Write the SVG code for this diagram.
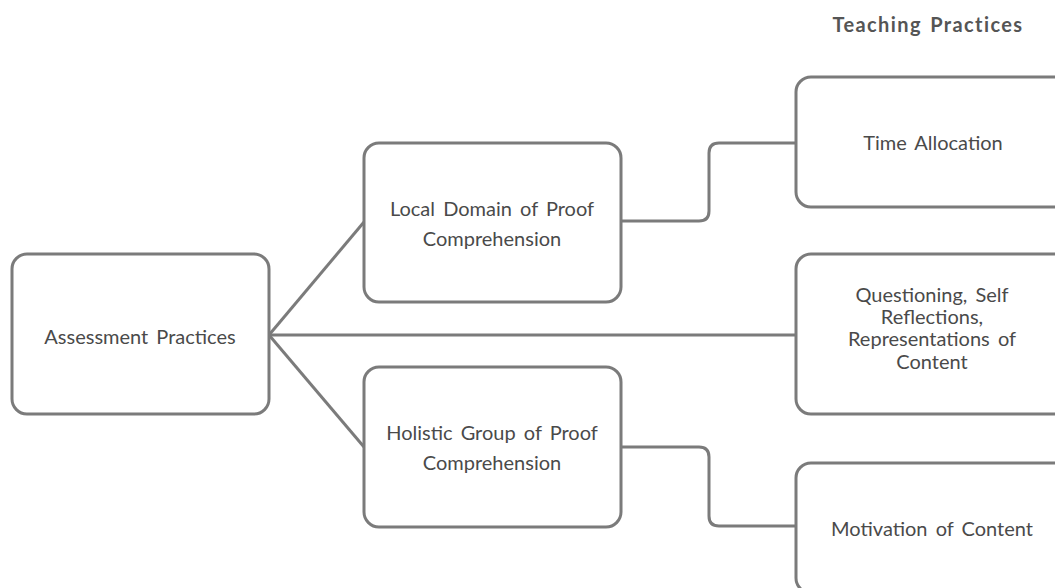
<svg xmlns="http://www.w3.org/2000/svg" width="1055" height="588" viewBox="0 0 1055 588">
<style>
.box{fill:#fff;stroke:#7b7b7b;stroke-width:3}
.lbl{font-family:Lato,"Liberation Sans",sans-serif;font-size:20px;fill:#4a4a4a;text-anchor:middle;word-spacing:3px}
.title{font-family:Lato,"Liberation Sans",sans-serif;font-size:20px;font-weight:bold;fill:#555;text-anchor:middle;letter-spacing:1.4px;word-spacing:2px}
.conn{fill:none;stroke:#7b7b7b;stroke-width:3}
</style>
<rect width="1055" height="588" fill="#fff"/>
<text class="title" x="928" y="32">Teaching Practices</text>
<g id="connectors">
<path class="conn" d="M269,335 L364,222"/>
<path class="conn" d="M269,335 L796,335"/>
<path class="conn" d="M269,335 L364,447"/>
<path class="conn" d="M621,221 L699,221 Q709,221 709,211 L709,153 Q709,143 719,143 L796,143"/>
<path class="conn" d="M621,447 L699,447 Q709,447 709,457 L709,516 Q709,526 719,526 L796,526"/>
</g>
<g id="assessment">
<rect class="box" x="12" y="254" width="257" height="160" rx="15"/>
<text class="lbl" x="140" y="344">Assessment Practices</text>
</g>
<g id="local">
<rect class="box" x="364" y="143" width="257" height="159" rx="15"/>
<text class="lbl" x="492" y="216">Local Domain of Proof</text>
<text class="lbl" x="492" y="246">Comprehension</text>
</g>
<g id="holistic">
<rect class="box" x="364" y="367" width="257" height="160" rx="15"/>
<text class="lbl" x="492" y="440">Holistic Group of Proof</text>
<text class="lbl" x="492" y="470">Comprehension</text>
</g>
<g id="time">
<rect class="box" x="796" y="77" width="275" height="130" rx="15"/>
<text class="lbl" x="933" y="150">Time Allocation</text>
</g>
<g id="questioning">
<rect class="box" x="796" y="254" width="275" height="160" rx="15"/>
<text class="lbl" x="932" y="302">Questioning, Self</text>
<text class="lbl" x="932" y="324">Reflections,</text>
<text class="lbl" x="932" y="346">Representations of</text>
<text class="lbl" x="932" y="369">Content</text>
</g>
<g id="motivation">
<rect class="box" x="796" y="463" width="275" height="130" rx="15"/>
<text class="lbl" x="932" y="536">Motivation of Content</text>
</g>
</svg>
